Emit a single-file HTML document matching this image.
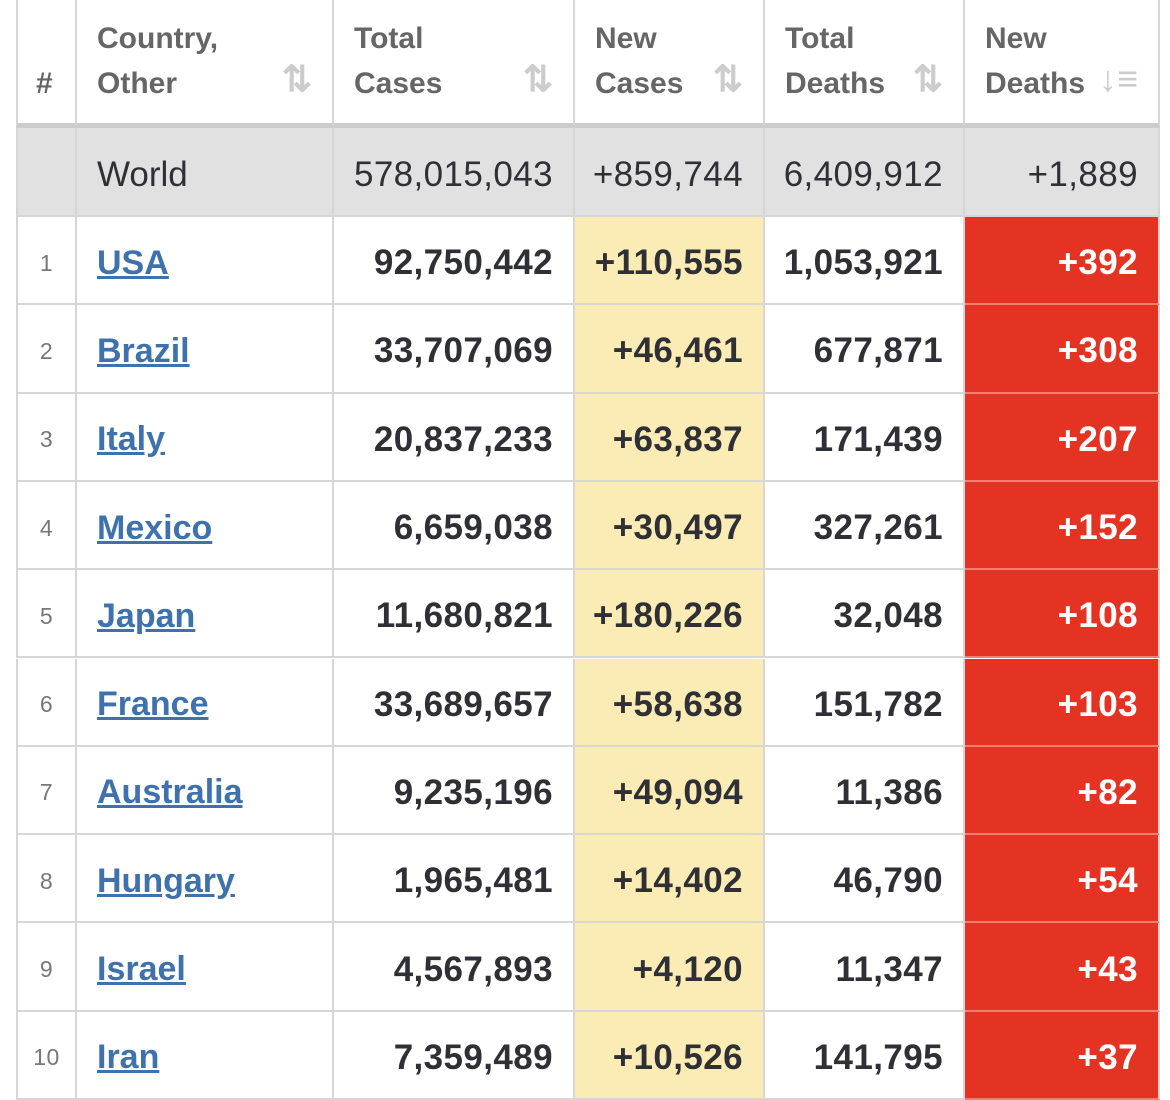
<!DOCTYPE html>
<html><head><meta charset="utf-8"><style>
body{margin:0;width:1170px;height:1099px;overflow:hidden;background:#fff;font-family:"Liberation Sans",Arial,sans-serif;position:relative}
.c{position:absolute;box-sizing:border-box;border-right:2px solid #d6d6d6;border-bottom:2px solid #d6d6d6;display:flex;align-items:center}
.h{color:#666;font-weight:bold;font-size:30px;line-height:45px;align-items:flex-end;padding-bottom:17px}
.n{justify-content:flex-end;padding-right:20px;padding-top:6px;font-size:35px;letter-spacing:0.4px;font-weight:bold;color:#2f2f36}
.icon{position:absolute;color:#ccc;font-size:36px;font-weight:bold;bottom:22px}
a{color:#3f71ad;text-decoration:underline;font-weight:bold;font-size:34px}
</style></head><body>
<div id="t"></div>
<script>
const ranks=[1,2,3,4,5,6,7,8,9,10];
const countries=["USA","Brazil","Italy","Mexico","Japan","France","Australia","Hungary","Israel","Iran"];
const totalCases=["92,750,442","33,707,069","20,837,233","6,659,038","11,680,821","33,689,657","9,235,196","1,965,481","4,567,893","7,359,489"];
const newCases=["+110,555","+46,461","+63,837","+30,497","+180,226","+58,638","+49,094","+14,402","+4,120","+10,526"];
const totalDeaths=["1,053,921","677,871","171,439","327,261","32,048","151,782","11,386","46,790","11,347","141,795"];
const newDeaths=["+392","+308","+207","+152","+108","+103","+82","+54","+43","+37"];
const world=["World","578,015,043","+859,744","6,409,912","+1,889"];
const headers=[["#"],["Country,","Other"],["Total","Cases"],["New","Cases"],["Total","Deaths"],["New","Deaths"]];
const xs=[16,77,334,575,765,965,1160];
const t=document.getElementById('t');
function cell(ci,y,h,cls,bg){
  const d=document.createElement('div');
  d.className='c '+cls;
  d.style.left=xs[ci]+'px';d.style.top=y+'px';d.style.width=(xs[ci+1]-xs[ci])+'px';d.style.height=h+'px';
  if(bg)d.style.background=bg;
  if(ci==0)d.style.borderLeft='2px solid #d6d6d6';
  t.appendChild(d);return d;
}
headers.forEach((hd,i)=>{
  const d=cell(i,-2,130,'h');
  
  
  d.style.paddingLeft=i==0?'18px':'20px';
  d.style.borderBottom='5px solid #ccc';
  d.innerHTML=hd.join('<br>');
  if(i>0){const ic=document.createElement('span');ic.className='icon';ic.style.right='20px';ic.textContent=i==5?'↓≡':'⇅';
  
  
  d.appendChild(ic);}
});
for(let i=0;i<6;i++){
  const d=cell(i,128,89,i==1?'':'n','#e1e1e1');
  
  
  d.style.fontWeight='normal';
  if(i==1){d.style.paddingLeft='20px';d.style.paddingTop='6px';d.style.fontSize='35px';d.style.color='#2f2f36';}
  if(i>0)d.textContent=world[i-1];
}
const rh=88.3;
ranks.forEach((r,k)=>{
  const y=217+k*rh;
  const vals=[r,countries[k],totalCases[k],newCases[k],totalDeaths[k],newDeaths[k]];
  for(let i=0;i<6;i++){
    const bg=i==3?'#fbecb5':(i==5?'#e43223':null);
    const d=cell(i,y,rh,i==1?'':'n',bg);
    
    
    if(i==0){d.style.fontSize='23px';d.style.fontWeight='normal';d.style.color='#777';d.style.justifyContent='center';d.style.padding='6px 0 0 0';d.textContent=r;}
    else if(i==1){d.style.paddingLeft='20px';d.style.paddingTop='6px';const a=document.createElement('a');a.textContent=vals[i];
      
      
      d.appendChild(a);}
    else{d.textContent=vals[i];if(i==5){d.style.color='#fff';d.style.borderBottom='2px solid #f08070';}}
  }
});
</script>
</body></html>
